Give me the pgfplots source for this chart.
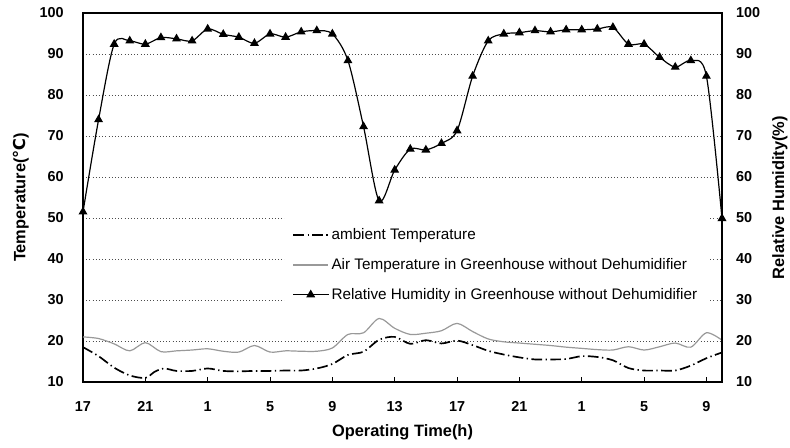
\documentclass[border=0pt]{standalone}
\usepackage{fontspec}
\setmainfont{Liberation Sans}
\newfontfamily\dejavu{DejaVu Sans}
\usepackage{pgfplots}
\pgfplotsset{compat=1.18}

% RH in greenhouse, hours after 17:00
\pgfplotstableread{
h rh
0 51.5
1 74.0
2 92.4
3 93.2
4 92.4
5 94.0
6 93.7
7 93.2
8 96.1
9 94.8
10 94.1
11 92.6
12 94.9
13 94.1
14 95.4
15 95.7
16 94.9
17 88.4
18 72.3
19 54.2
20 61.7
21 66.8
22 66.6
23 68.2
24 71.3
25 84.6
26 93.2
27 94.9
28 95.2
29 95.7
30 95.4
31 95.9
32 95.9
33 96.1
34 96.5
35 92.4
36 92.4
37 89.2
38 86.8
39 88.4
40 84.6
41 49.9
}\rhtable

\pgfplotstableread{
h t
0 21.0
1 20.6
2 19.3
3 17.6
4 19.6
5 17.4
6 17.6
7 17.8
8 18.1
9 17.5
10 17.3
11 18.9
12 17.3
13 17.6
14 17.5
15 17.5
16 18.3
17 21.6
18 22.0
19 25.5
20 23.1
21 21.6
22 21.9
23 22.5
24 24.3
25 22.3
26 20.5
27 19.8
28 19.5
29 19.2
30 18.9
31 18.5
32 18.2
33 17.9
34 17.8
35 18.6
36 17.8
37 18.6
38 19.5
39 18.5
40 22.0
41 20.2
}\airtable

\pgfplotstableread{
h t
0 18.5
1 16.3
2 13.5
3 11.6
4 11.0
4.6 12.5
5.2 13.3
6 12.7
7 12.7
8 13.3
9 12.7
10 12.6
11 12.7
12 12.7
13 12.8
14 12.8
15 13.3
16 14.4
17 16.6
18 17.4
19 20.3
20 21.0
21 19.3
22 20.2
23 19.4
24 20.1
25 19.0
26 17.6
27 16.7
28 16.0
29 15.5
30 15.5
31 15.6
32 16.3
33 16.1
34 15.3
35 13.4
36 12.8
37 12.8
38 12.8
39 14.0
40 15.8
41 17.2
}\ambtable

\begin{document}
\begin{tikzpicture}
\path[use as bounding box] (-62.25pt,-48.75pt) rectangle (530.25pt,286.5pt);
\pgfplotsset{
  every axis/.append style={
    scale only axis, width=479.25pt, height=276.75pt,
    xmin=0, xmax=41, ymin=10, ymax=100,
    ytick={10,20,...,100},
    /pgf/number format/assume math mode=true,
    ticklabel style={font=\bfseries\fontsize{10.8}{12}\selectfont},
    label style={font=\bfseries\fontsize{12.3}{14}\selectfont},
    axis line style={line width=1.6pt},
  }
}
\begin{axis}[
    xtick={0,4,...,40},
    xticklabels={17,21,1,5,9,13,17,21,1,5,9},
    xtick pos=bottom, ytick pos=left,
    xtick align=inside,
    major tick length=4pt,
    xtick style={black, line width=0.6pt},
    ytick style={draw=none},
    xticklabel style={yshift=-11pt},
    yticklabel style={xshift=-11pt},
    ymajorgrids,
    grid style={black!70, dotted, line width=0.7pt},
    xlabel={Operating Time(h)},
    ylabel={Temperature({\dejavu ℃})},
    xlabel style={at={(axis description cs:0.5,0)}, anchor=center, yshift=-38pt},
    ylabel style={at={(axis description cs:0,0.5)}, anchor=center, yshift=46.5pt},
]
\addplot[black, line width=1.25pt, smooth, tension=0.5,
  dash pattern=on 8pt off 2.6pt on 1pt off 2.6pt] table[x=h, y=t] {\ambtable};
\addplot[black!40, line width=0.9pt, smooth, tension=0.5] table[x=h, y=t] {\airtable};
\end{axis}
\begin{axis}[
    axis x line=none,
    axis y line*=right,
    ytick style={draw=none},
    yticklabel style={xshift=7pt},
    ylabel={Relative Humidity(\%)},
    ylabel style={at={(axis description cs:1,0.5)}, anchor=center, yshift=-43.5pt},
    legend style={at={(rel axis cs:0.315,0.445)}, anchor=north west, draw=none, fill=white,
      font=\fontsize{11.45}{13}\selectfont, row sep=8.5pt, inner xsep=6pt, inner ysep=6pt},
    legend cell align=left,
    legend image code/.code={\draw[mark repeat=2,mark phase=2,#1]
      plot coordinates {(0pt,0pt) (13pt,0pt) (26pt,0pt)};},
]
\addlegendimage{black, line width=1.25pt, dash pattern=on 8pt off 2.6pt on 1pt off 2.6pt}
\addlegendentry{ambient Temperature}
\addlegendimage{black!40, line width=0.9pt}
\addlegendentry{Air Temperature in Greenhouse without Dehumidifier}
\addplot[black, line width=0.9pt, smooth, tension=0.5, mark=triangle*, mark size=3pt,
  mark options={solid}] table[x=h, y=rh] {\rhtable};
\addlegendentry{Relative Humidity in Greenhouse without Dehumidifier}
\end{axis}
\end{tikzpicture}
\end{document}
